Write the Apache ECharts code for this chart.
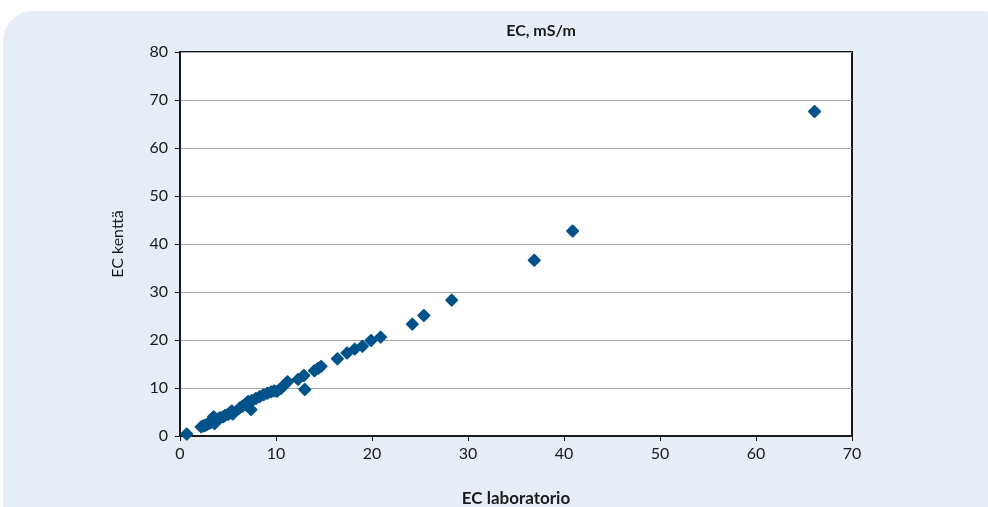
<!DOCTYPE html>
<html>
<head>
<meta charset="utf-8">
<script src="https://cdn.jsdelivr.net/npm/echarts@6/dist/echarts.min.js"></script>
<style>
html,body{margin:0;padding:0;background:#fff;}
#c{width:988px;height:507px;}
</style>
</head>
<body>
<div id="c"></div>
<script>
const titleText = 'EC, mS/m';
const xName = 'EC laboratorio';
const yName = 'EC kenttä';
const xTicks = [0, 10, 20, 30, 40, 50, 60, 70];
const yTicks = [0, 10, 20, 30, 40, 50, 60, 70, 80];
const labValues = [0.7,2.2,2.4,2.6,2.8,3.0,3.2,3.3,3.5,3.6,3.8,4.0,4.2,4.5,4.7,5.0,5.2,5.4,5.5,6.2,6.5,6.8,7.1,7.4,7.5,7.9,8.3,8.7,9.1,9.5,9.8,10.1,10.5,10.8,11.2,12.3,12.9,13.0,14.0,14.4,14.7,16.4,17.4,18.2,19.0,19.9,20.9,24.2,25.4,28.3,36.9,40.9,66.1];
const fieldValues = [0.4,1.9,2.1,2.2,2.4,2.6,2.8,3.3,4.0,2.6,3.2,3.6,3.8,4.0,4.3,4.5,4.8,5.2,4.6,5.8,6.2,6.6,7.2,5.5,7.4,7.8,8.2,8.6,8.9,9.2,9.4,9.3,9.9,10.5,11.3,11.8,12.6,9.7,13.6,14.1,14.5,16.1,17.3,18.1,18.7,19.9,20.6,23.3,25.1,28.3,36.6,42.7,67.6];

const points = labValues.map((v, i) => [v, fieldValues[i]]);
const font = 'Lato, "Open Sans", sans-serif';

const chart = echarts.init(document.getElementById('c'), null, {renderer: 'canvas'});
chart.setOption({
  animation: false,
  backgroundColor: '#ffffff',
  graphic: [{
    type: 'rect', z: -10, silent: true,
    shape: {x: 3, y: 11, width: 1010, height: 530, r: 30},
    style: {fill: '#e7edf6'}
  }],
  title: {
    text: titleText,
    left: 536, top: 18, textAlign: 'center',
    textStyle: {fontFamily: font, fontWeight: 'bold', fontSize: 16, color: '#1a1a1a'}
  },
  grid: {
    left: 180, right: 136, top: 52, bottom: 71,
    outerBoundsMode: 'none', containLabel: false,
    show: true, backgroundColor: '#ffffff', borderColor: '#1a1a1a', borderWidth: 2
  },
  xAxis: {
    type: 'value', min: xTicks[0], max: xTicks[xTicks.length - 1], interval: 10,
    name: xName, nameLocation: 'middle', nameGap: 54,
    nameTextStyle: {fontFamily: font, fontWeight: 'bold', fontSize: 17, color: '#1a1a1a'},
    axisLine: {show: true, lineStyle: {color: '#1a1a1a', width: 1}},
    axisTick: {show: true, length: 5, lineStyle: {color: '#1a1a1a'}},
    axisLabel: {fontFamily: font, fontSize: 16, color: '#1a1a1a', margin: 10},
    splitLine: {show: false}
  },
  yAxis: {
    type: 'value', min: yTicks[0], max: yTicks[yTicks.length - 1], interval: 10,
    name: yName, nameLocation: 'middle', nameGap: 54, nameRotate: 90,
    nameTextStyle: {fontFamily: font, fontSize: 16, color: '#1a1a1a'},
    axisLine: {show: true, lineStyle: {color: '#1a1a1a', width: 1}},
    axisTick: {show: true, length: 5, lineStyle: {color: '#1a1a1a'}},
    axisLabel: {fontFamily: font, fontSize: 16, color: '#1a1a1a', margin: 12},
    splitLine: {show: true, lineStyle: {color: '#a6a6a6', width: 1}}
  },
  series: [{
    type: 'scatter',
    data: points,
    symbol: 'diamond',
    symbolSize: [11, 11],
    itemStyle: {color: '#00538a', opacity: 1, borderColor: '#00538a', borderWidth: 2, borderJoin: 'round'}
  }]
});
</script>
</body>
</html>
